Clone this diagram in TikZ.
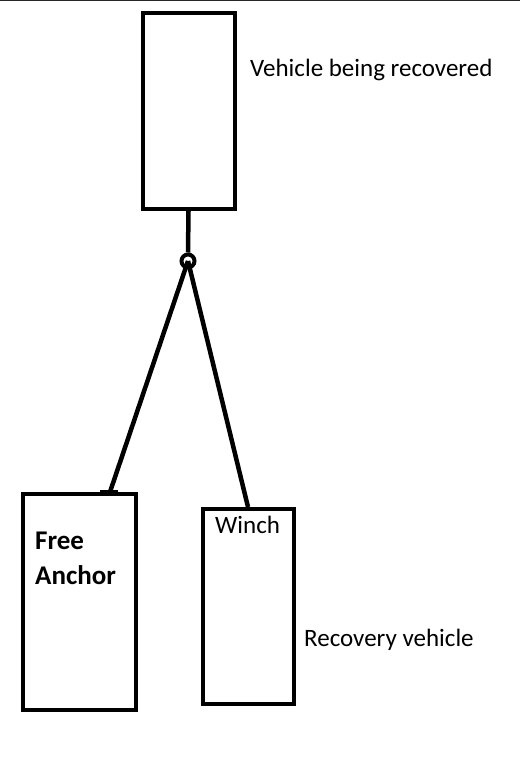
\documentclass[tikz,border=0pt]{standalone}
\usepackage{fontspec}
\setmainfont{Carlito}
\begin{document}
\begin{tikzpicture}[x=1pt,y=-1pt,
  boxs/.style={draw,line width=4pt},
  rope/.style={line width=4.5pt},
  lbl/.style={font=\fontsize{25}{28}\selectfont,anchor=west,inner sep=0pt},
  blbl/.style={font=\fontsize{27}{35}\selectfont\bfseries,anchor=north west,inner sep=0pt,align=left}]
\useasboundingbox (0,0) rectangle (520,757);
\draw[line width=1.5pt,black!85] (0,0.75) -- (520,0.75);
% boxes
\node[boxs,minimum width=92pt,minimum height=196pt,inner sep=0pt] (veh) at (188.5,111) {};
\node[boxs,minimum width=113pt,minimum height=216pt,inner sep=0pt] (anc) at (79,602) {};
\node[boxs,minimum width=91pt,minimum height=195pt,inner sep=0pt] (rec) at (248,606.5) {};
% pulley
\node[draw,circle,line width=4pt,minimum size=13pt,inner sep=0pt] (pul) at (188,261) {};
\coordinate (ancpt) at (110,492);
\coordinate (winpt) at (248,507);
\draw[rope] (veh.south) -- (pul.north);
\draw[rope] (pul.center) -- (ancpt);
\draw[rope] (pul.center) -- (winpt);
\draw[rope] (100,492) -- (118,492);
% labels
\node[lbl] (t1) at (250,70) {Vehicle being recovered};
\node[blbl] (t2) at (35,532) {Free\\Anchor};
\node[lbl] (t3) at (215,525) {Winch};
\node[lbl] (t4) at (304,640) {Recovery vehicle};
\end{tikzpicture}
\end{document}
